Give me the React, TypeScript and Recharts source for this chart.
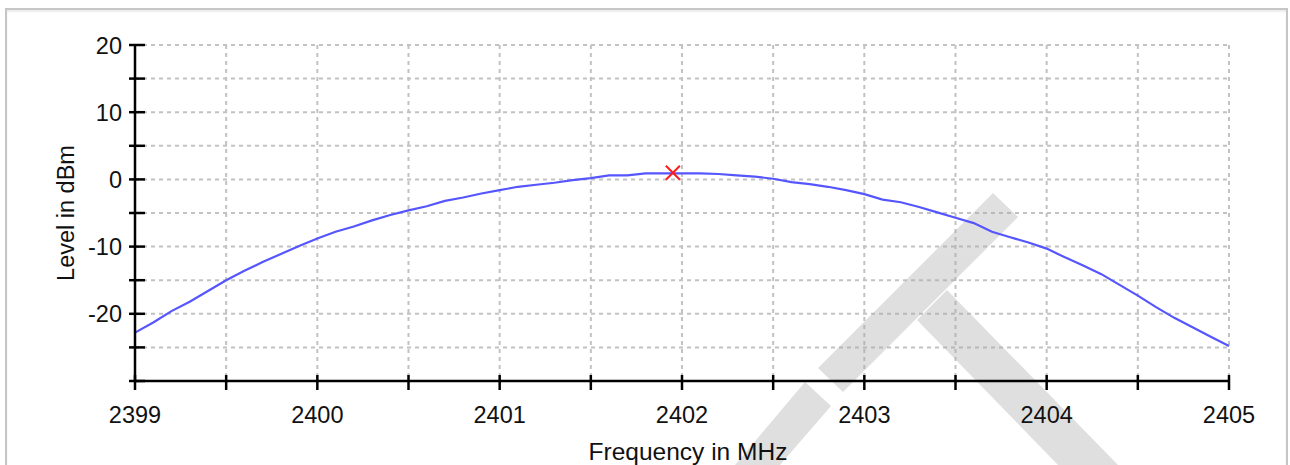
import React from "react";
import { ComposedChart, Line, Scatter, XAxis, YAxis, CartesianGrid, Customized, Label } from "recharts";

const freqs = [
  2399.0, 2399.1, 2399.2, 2399.3, 2399.4, 2399.5, 2399.6, 2399.7, 2399.8, 2399.9,
  2400.0, 2400.1, 2400.2, 2400.3, 2400.4, 2400.5, 2400.6, 2400.7, 2400.8, 2400.9,
  2401.0, 2401.1, 2401.2, 2401.3, 2401.4, 2401.5, 2401.6, 2401.7, 2401.8, 2401.9,
  2402.0, 2402.1, 2402.2, 2402.3, 2402.4, 2402.5, 2402.6, 2402.7, 2402.8, 2402.9,
  2403.0, 2403.1, 2403.2, 2403.3, 2403.4, 2403.5, 2403.6, 2403.7, 2403.8, 2403.9,
  2404.0, 2404.1, 2404.2, 2404.3, 2404.4, 2404.5, 2404.6, 2404.7, 2404.8, 2404.9,
  2405.0,
];

const levels = [
  -22.8, -21.3, -19.6, -18.2, -16.6, -15.0, -13.6, -12.3, -11.1, -9.9,
  -8.8, -7.8, -7.0, -6.1, -5.3, -4.6, -4.0, -3.2, -2.7, -2.1,
  -1.6, -1.1, -0.8, -0.5, -0.1, 0.2, 0.6, 0.6, 0.9, 0.9,
  0.9, 0.9, 0.8, 0.6, 0.4, 0.1, -0.4, -0.7, -1.1, -1.6,
  -2.2, -3.0, -3.4, -4.1, -4.9, -5.7, -6.5, -7.8, -8.6, -9.4,
  -10.3, -11.6, -12.8, -14.1, -15.7, -17.3, -19.0, -20.6, -22.0, -23.4,
  -24.8,
];

const peak = [{ freq: 2401.95, level: 1.0 }];

const xTicks = [2399, 2399.5, 2400, 2400.5, 2401, 2401.5, 2402, 2402.5, 2403, 2403.5, 2404, 2404.5, 2405];
const xLabels = [2399, 2400, 2401, 2402, 2403, 2404, 2405];
const yTicks = [-30, -25, -20, -15, -10, -5, 0, 5, 10, 15, 20];
const yLabels = [-20, -10, 0, 10, 20];

const data = freqs.map((f, i) => ({ freq: f, level: levels[i] }));

const FONT = "'Liberation Sans', Arial, sans-serif";

function YTick(props: any) {
  const { x, y, payload } = props;
  const v = payload.value;
  return (
    <g>
      <line x1={x - 6} x2={x + 10} y1={y} y2={y} stroke="#000" strokeWidth={2.5} />
      {yLabels.includes(v) && (
        <text x={x - 13} y={y} dy={8.5} textAnchor="end" fontSize={23.5} fontFamily={FONT} fill="#111">
          {v}
        </text>
      )}
    </g>
  );
}

function XTick(props: any) {
  const { x, y, payload } = props;
  const v = payload.value;
  return (
    <g>
      <line x1={x} x2={x} y1={y - 6} y2={y + 9} stroke="#000" strokeWidth={2.5} />
      {xLabels.includes(v) && (
        <text x={x} y={y + 42} textAnchor="middle" fontSize={23.5} fontFamily={FONT} fill="#111">
          {v}
        </text>
      )}
    </g>
  );
}

function Cross(props: any) {
  const { cx, cy } = props;
  const r = 7;
  return (
    <g>
      <line x1={cx - r} y1={cy - r} x2={cx + r} y2={cy + r} stroke="#ff1a1a" strokeWidth={2} />
      <line x1={cx - r} y1={cy + r} x2={cx + r} y2={cy - r} stroke="#ff1a1a" strokeWidth={2} />
    </g>
  );
}

// watermark drawn over the grid
function Watermark() {
  return (
    <g fill="#a8a8a8" opacity={0.36}>
      <polygon points="993,193 1018,217 843,392 818,368" />
      <polygon points="805,382 831,406 780,465 735,465" />
      <polygon points="917,320 947,290 1118,465 1058,465" />
    </g>
  );
}

export default function App() {
  return (
    <div style={{ position: "absolute", left: 0, top: 0, width: 1290, height: 465, overflow: "hidden", background: "#fff" }}>
      <div
        style={{
          position: "absolute",
          left: 5,
          top: 8,
          width: 1279,
          height: 470,
          border: "2px solid #c6c6c6",
          boxShadow: "inset 0 2px 2px #ececec",
        }}
      />
      <div style={{ position: "absolute", left: 0, top: 0 }}>
        <ComposedChart
          width={1290}
          height={465}
          data={data}
          margin={{ top: 45, right: 61, bottom: 0, left: 0 }}
        >
          <CartesianGrid stroke="#c2c2c2" strokeWidth={2} strokeDasharray="4 4" />
          <Customized component={Watermark} />
          <XAxis
            dataKey="freq"
            type="number"
            domain={[2399, 2405]}
            ticks={xTicks}
            interval={0}
            height={84}
            tickSize={0}
            tickMargin={0}
            tickLine={false}
            tick={<XTick />}
            axisLine={{ stroke: "#000", strokeWidth: 2.5 }}
          >
            <Label
              value="Frequency in MHz"
              position="insideBottom"
              offset={5}
              dx={6}
              fontSize={24.5}
              fontFamily={FONT}
              fill="#111"
            />
          </XAxis>
          <YAxis
            type="number"
            domain={[-30, 20]}
            ticks={yTicks}
            interval={0}
            width={135}
            tickSize={0}
            tickMargin={0}
            tickLine={false}
            tick={<YTick />}
            axisLine={{ stroke: "#000", strokeWidth: 2.5 }}
          >
            <Label
              value="Level in dBm"
              angle={-90}
              position="insideLeft"
              offset={66}
              fontSize={23.5}
              fontFamily={FONT}
              fill="#111"
              style={{ textAnchor: "middle" }}
            />
          </YAxis>
          <Line
            dataKey="level"
            type="linear"
            stroke="#5656ff"
            strokeWidth={2.2}
            dot={false}
            activeDot={false}
            isAnimationActive={false}
          />
          <Scatter data={peak} dataKey="level" shape={<Cross />} isAnimationActive={false} />
        </ComposedChart>
      </div>
    </div>
  );
}
